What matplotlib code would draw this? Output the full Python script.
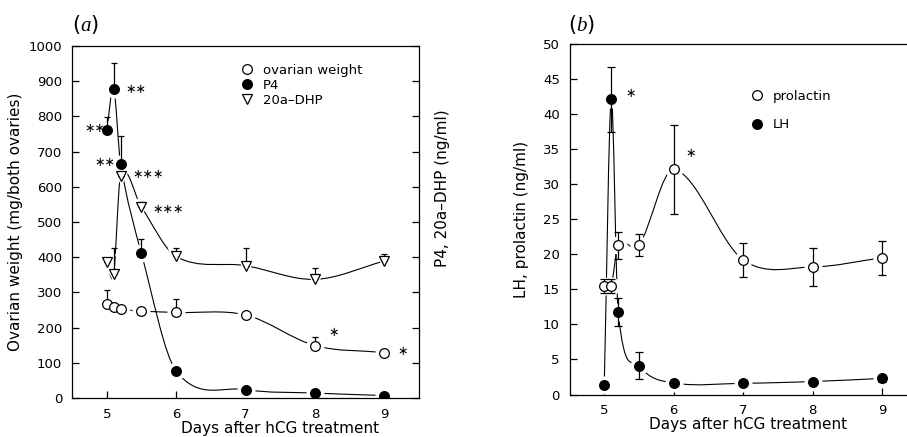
import numpy as np
import matplotlib
matplotlib.use("Agg")
import matplotlib.pyplot as plt
from matplotlib.path import Path
from matplotlib.patches import PathPatch

plt.rcParams['font.family'] = ['DejaVu Sans']
plt.rcParams['mathtext.fontset'] = 'custom'
plt.rcParams['mathtext.rm'] = 'Liberation Serif'
plt.rcParams['mathtext.it'] = 'Liberation Serif:italic'

# ---------------- data ----------------
days = [5, 5.1, 5.2, 5.5, 6, 7, 8, 9]

ovary_weight = [267, 259, 252, 247, 243, 236, 149, 129]
ovary_err = [40, 0, 0, 0, 37, 0, 23, 0]

p4 = [760, 879, 666, 411, 77, 24, 14, 7]
p4_err = [38, 73, 78, 40, 0, 0, 0, 0]

dhp = [387, 352, 632, 542, 402, 376, 337, 389]
dhp_err = [10, 73, 0, 16, 23, 49, 33, 20]

prolactin = [15.5, 15.5, 21.3, 21.3, 32.1, 19.2, 18.2, 19.5]
prolactin_err = [1.0, 1.0, 1.9, 1.6, 6.4, 2.4, 2.7, 2.4]

lh = [1.4, 42.1, 11.75, 4.1, 1.65, 1.6, 1.85, 2.3]
lh_err = [0.2, 4.6, 2.0, 1.9, 0.2, 0.2, 0.2, 0.5]

xticks = [5, 6, 7, 8, 9]
yticks_a = [0, 100, 200, 300, 400, 500, 600, 700, 800, 900, 1000]
yticks_b = [0, 5, 10, 15, 20, 25, 30, 35, 40, 45, 50]

stars_a = [(5.27, 877, '∗∗'), (4.68, 765, '∗∗'), (4.82, 670, '∗∗'),
           (5.37, 634, '∗∗∗'), (5.66, 535, '∗∗∗'), (8.19, 187, '∗'), (9.19, 133, '∗')]
stars_b = [(5.31, 42.9, '∗'), (6.17, 34.4, '∗')]


def smooth_path(x, y):
    """Cubic Hermite (Catmull-Rom style) curve through the data, as Bezier path."""
    x = np.asarray(x, float)
    y = np.asarray(y, float)
    n = len(x)
    m = np.zeros(n)
    for i in range(n):
        if i == 0:
            m[i] = (y[1] - y[0]) / (x[1] - x[0])
        elif i == n - 1:
            m[i] = (y[-1] - y[-2]) / (x[-1] - x[-2])
        else:
            m[i] = (y[i + 1] - y[i - 1]) / (x[i + 1] - x[i - 1])
    verts = [(x[0], y[0])]
    codes = [Path.MOVETO]
    for i in range(n - 1):
        h = x[i + 1] - x[i]
        verts += [(x[i] + h / 3, y[i] + m[i] * h / 3),
                  (x[i + 1] - h / 3, y[i + 1] - m[i + 1] * h / 3),
                  (x[i + 1], y[i + 1])]
        codes += [Path.CURVE4] * 3
    return Path(verts, codes)


def draw_series(ax, series, capsize, onesided):
    for x, y, err, mk, fc, ms in series:
        ax.add_patch(PathPatch(smooth_path(x, y), fill=False, lw=0.8,
                               edgecolor='black', zorder=1,
                               transform=ax.transData))
    for x, y, err, mk, fc, ms in series:
        ax.plot(x, y, ls='none', marker=mk, ms=ms + 5, mfc='white',
                mec='white', zorder=2)
    for x, y, err, mk, fc, ms in series:
        err = np.asarray(err, float)
        yerr = [np.zeros_like(err), err] if onesided else err
        ax.errorbar(x, y, yerr=yerr, fmt='none', ecolor='black',
                    elinewidth=0.9, capsize=capsize, capthick=0.9, zorder=2.5)
    handles = []
    for x, y, err, mk, fc, ms in series:
        h, = ax.plot(x, y, ls='none', marker=mk, ms=ms, mfc=fc,
                     mec='black', mew=0.9, zorder=3)
        handles.append(h)
    return handles


def style_axes(ax, yticks):
    ax.set_xlim(4.5, 9.5)
    ax.set_xticks(xticks)
    ax.set_yticks(yticks)
    ax.set_ylim(yticks[0], yticks[-1])
    ax.tick_params(direction='in', length=5, width=0.9, labelsize=9.5,
                   pad=7)
    for s in ax.spines.values():
        s.set_linewidth(0.9)


fig = plt.figure(figsize=(9.07, 4.37), dpi=100)

# ---------------- panel (a) ----------------
axa = fig.add_axes([72 / 907, 1 - 398 / 437, 347 / 907, 352 / 437])
style_axes(axa, yticks_a)
axa.tick_params(axis='y', right=True)
hs = draw_series(axa, [
    (days, ovary_weight, ovary_err, 'o', 'white', 7),
    (days, p4, p4_err, 'o', 'black', 7),
    (days, dhp, dhp_err, 'v', 'white', 7),
], capsize=2.3, onesided=True)
axa.legend(hs, ['ovarian weight', 'P4', '20a\u2013DHP'], loc='upper left',
           bbox_to_anchor=(0.475, 0.965), frameon=False, fontsize=9.5,
           handlelength=0.8, handletextpad=0.8, labelspacing=0.15,
           borderaxespad=0)
for x, y, t in stars_a:
    axa.text(x, y, t, fontsize=9, ha='left', va='center')
axa.set_xlabel('Days after hCG treatment', fontsize=11)
axa.xaxis.set_label_coords(0.6, -0.066)
axa.set_ylabel('Ovarian weight (mg/both ovaries)', fontsize=11, labelpad=4)
fig.text(442 / 907, 1 - 188 / 437, 'P4, 20a\u2013DHP (ng/ml)', rotation=90,
         fontsize=11, ha='center', va='center')
fig.text(72 / 907, 1 - 31 / 437, r'($\mathit{a}$)', fontsize=15,
         ha='left', va='baseline')

# ---------------- panel (b) ----------------
axb = fig.add_axes([569.5 / 907, 1 - 394.5 / 437, 347.5 / 907, 350.5 / 437])
style_axes(axb, yticks_b)
axb.spines['right'].set_visible(False)
hb = draw_series(axb, [
    (days, prolactin, prolactin_err, 'o', 'white', 7),
    (days, lh, lh_err, 'o', 'black', 7),
], capsize=3.2, onesided=False)
axb.legend(hb, ['prolactin', 'LH'], loc='upper left',
           bbox_to_anchor=(0.51, 0.885), frameon=False, fontsize=9.5,
           handlelength=0.8, handletextpad=0.8, labelspacing=1.2,
           borderaxespad=0)
for x, y, t in stars_b:
    axb.text(x, y, t, fontsize=9, ha='left', va='center')
axb.set_xlabel('Days after hCG treatment', fontsize=11)
axb.xaxis.set_label_coords(0.515, -0.064)
axb.set_ylabel('LH, prolactin (ng/ml)', fontsize=11, labelpad=10)
fig.text(568 / 907, 1 - 31 / 437, r'($\mathit{b}$)', fontsize=15,
         ha='left', va='baseline')

fig.savefig('out.png', dpi=100)
